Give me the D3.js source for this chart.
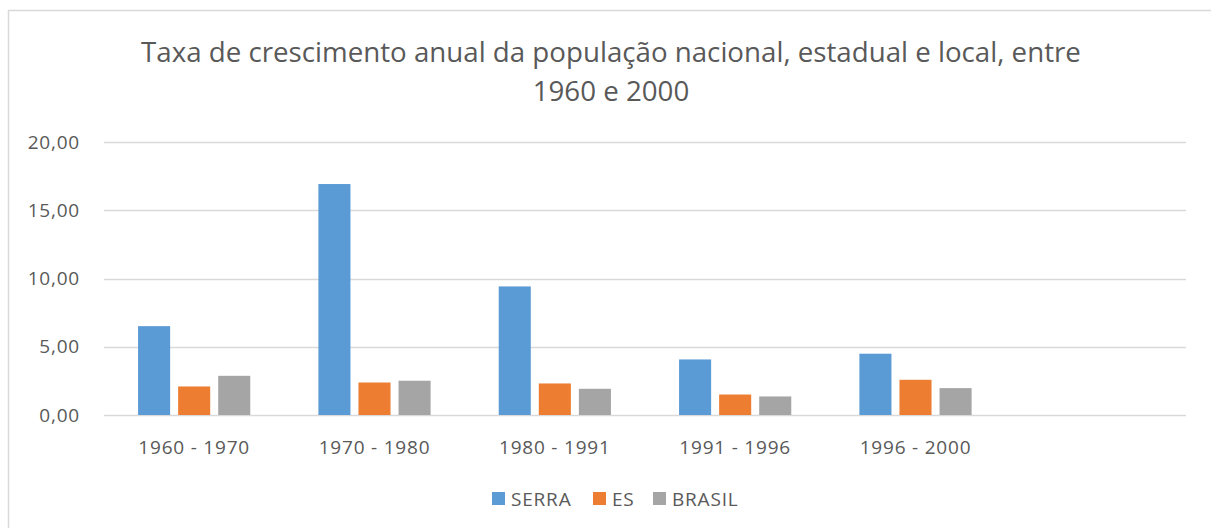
<!DOCTYPE html>
<html>
<head>
<meta charset="utf-8">
<script src="https://cdn.jsdelivr.net/npm/d3@7"></script>
<style>
  body { margin: 0; background: #fff; }
  text { font-family: "Open Sans", sans-serif; fill: #595959; }
  .lbl { font-size: 19px; letter-spacing: 0.8px; }
</style>
</head>
<body>
<div id="chart"></div>
<script>
// data
const periods = ["1960 - 1970", "1970 - 1980", "1980 - 1991", "1991 - 1996", "1996 - 2000", ""];
const seriesNames = ["SERRA", "ES", "BRASIL"];
const serra = [6.51, 16.92, 9.42, 4.07, 4.49, null];
const es = [2.09, 2.38, 2.31, 1.50, 2.58, null];
const brasil = [2.87, 2.51, 1.92, 1.36, 1.97, null];
const yTicks = [0, 5, 10, 15, 20];
const colors = ["#5B9BD5", "#ED7D31", "#A5A5A5"];

const values = [serra, es, brasil];

const width = 1211, height = 528;
const margin = { left: 104, right: 25, top: 142, bottom: 113 };

const svg = d3.select("#chart")
    .append("svg")
    .attr("width", width)
    .attr("height", height);

// chart border (runs off the picture at right and bottom)
svg.append("rect")
    .attr("x", 8.5)
    .attr("y", 10.5)
    .attr("width", 1230)
    .attr("height", 540)
    .attr("fill", "none")
    .attr("stroke", "#D9D9D9")
    .attr("stroke-width", 1.5);

// title
const title = svg.append("text")
    .attr("text-anchor", "middle")
    .style("font-size", "27.7px");
title.append("tspan").attr("x", 611).attr("y", 62)
    .text("Taxa de crescimento anual da população nacional, estadual e local, entre");
title.append("tspan").attr("x", 611).attr("y", 101)
    .text("1960 e 2000");

const x0 = d3.scaleBand()
    .domain(periods.map((d, i) => i))
    .range([margin.left, width - margin.right])
    .paddingInner(1 / 3)
    .paddingOuter(1 / 6);

const x1 = d3.scaleBand()
    .domain(seriesNames)
    .range([0, x0.bandwidth()])
    .paddingInner(0.2)
    .paddingOuter(0.1);

const y = d3.scaleLinear()
    .domain([0, 20])
    .range([height - margin.bottom, margin.top]);

const fmt = d => d3.format(".2f")(d).replace(".", ",");

// gridlines
svg.append("g")
    .selectAll("line")
    .data(yTicks)
    .enter()
    .append("line")
    .attr("x1", margin.left)
    .attr("x2", width - margin.right)
    .attr("y1", d => Math.round(y(d)) + 0.5)
    .attr("y2", d => Math.round(y(d)) + 0.5)
    .attr("stroke", "#D9D9D9")
    .attr("stroke-width", 1.3);

// y labels
svg.append("g")
    .selectAll("text")
    .data(yTicks)
    .enter()
    .append("text")
    .attr("class", "lbl")
    .attr("x", 80)
    .attr("y", d => y(d) + 6.5)
    .attr("text-anchor", "end")
    .text(fmt);

// bars
const groups = svg.append("g")
    .selectAll("g")
    .data(periods.map((p, i) => i))
    .enter()
    .append("g")
    .attr("transform", i => `translate(${x0(i)},0)`);

groups.selectAll("rect")
    .data(i => seriesNames.map((s, k) => ({ s, k, v: values[k][i] })).filter(d => d.v != null))
    .enter()
    .append("rect")
    .attr("x", d => x1(d.s))
    .attr("width", x1.bandwidth())
    .attr("y", d => y(d.v))
    .attr("height", d => y(0) - y(d.v))
    .attr("fill", d => colors[d.k]);

// category labels
svg.append("g")
    .selectAll("text")
    .data(periods.map((p, i) => i))
    .enter()
    .append("text")
    .attr("class", "lbl")
    .attr("x", i => x0(i) + x0.bandwidth() / 2)
    .attr("y", 453.5)
    .attr("text-anchor", "middle")
    .text(i => periods[i]);

// legend
const legendX = [492, 593, 653];
const legend = svg.append("g")
    .selectAll("g")
    .data(seriesNames)
    .enter()
    .append("g")
    .attr("transform", (d, i) => `translate(${legendX[i]},492)`);

legend.append("rect")
    .attr("width", 13)
    .attr("height", 13)
    .attr("fill", (d, i) => colors[i]);

legend.append("text")
    .attr("class", "lbl")
    .attr("x", 19)
    .attr("y", 13.5)
    .text(d => d);
</script>
</body>
</html>
